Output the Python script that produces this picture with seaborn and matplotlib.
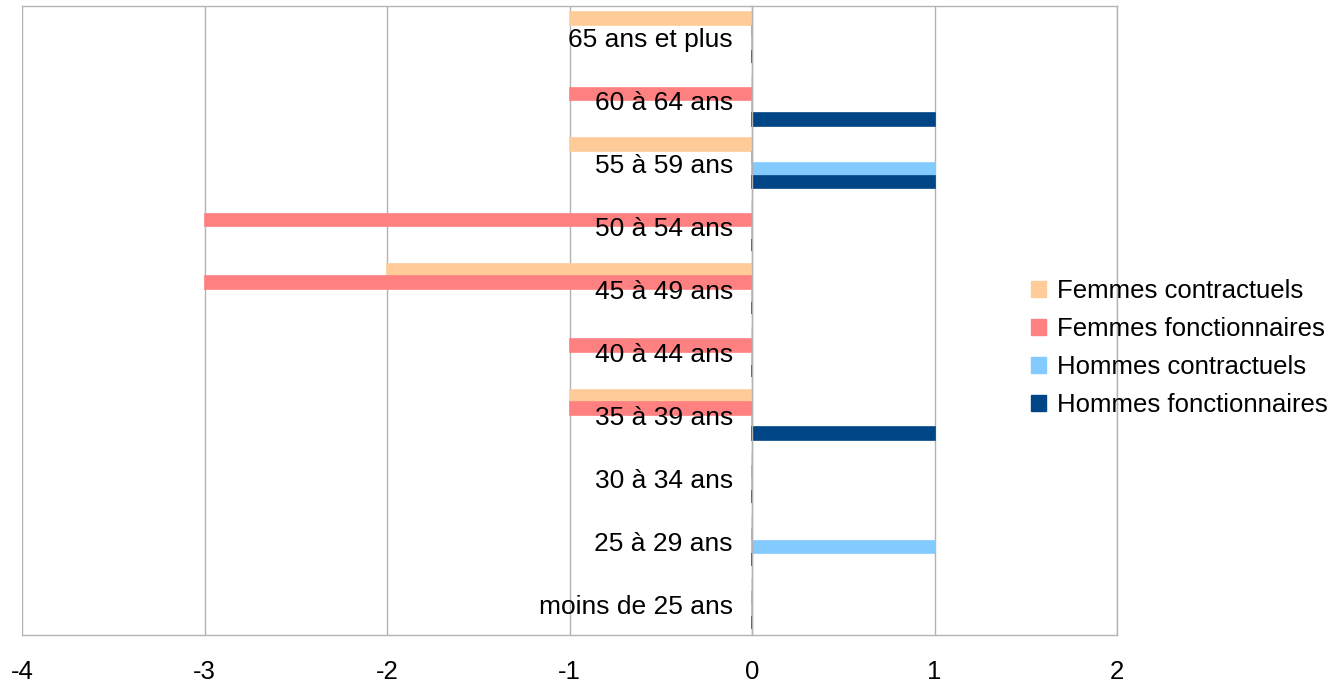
import numpy as np
import pandas as pd
import matplotlib
matplotlib.use("Agg")
import matplotlib.pyplot as plt
import matplotlib.transforms as mtransforms
import seaborn as sns

categories = ["65 ans et plus", "60 à 64 ans", "55 à 59 ans", "50 à 54 ans",
              "45 à 49 ans", "40 à 44 ans", "35 à 39 ans", "30 à 34 ans",
              "25 à 29 ans", "moins de 25 ans"]
series = ["Femmes contractuels", "Femmes fonctionnaires",
          "Hommes contractuels", "Hommes fonctionnaires"]
femmes_contractuels = [-1, 0, -1, 0, -2, 0, -1, 0, 0, 0]
femmes_fonctionnaires = [0, -1, 0, -3, -3, -1, -1, 0, 0, 0]
hommes_contractuels = [0, 0, 1, 0, 0, 0, 0, 0, 1, 0]
hommes_fonctionnaires = [0, 1, 1, 0, 0, 0, 1, 0, 0, 0]
colors = ["#ffcc99", "#ff8080", "#83caff", "#004586"]

rows = []
for name, vals in zip(series, [femmes_contractuels, femmes_fonctionnaires,
                               hommes_contractuels, hommes_fonctionnaires]):
    for cat, v in zip(categories, vals):
        rows.append({"cat": cat, "serie": name, "val": v})
df = pd.DataFrame(rows)

sns.set_style("white")
plt.rcParams["font.family"] = ["Liberation Sans", "DejaVu Sans"]
plt.rcParams["axes.unicode_minus"] = False
plt.rcParams["text.color"] = "black"
plt.rcParams["xtick.color"] = "black"
plt.rcParams["ytick.color"] = "black"

grey = "#b3b3b3"
fig = plt.figure(figsize=(13.4, 6.82), dpi=100)
ax = fig.add_axes([22 / 1340, 47 / 682, 1095 / 1340, 629 / 682])

sns.barplot(data=df, y="cat", x="val", hue="serie", order=categories,
            hue_order=series, palette=colors, orient="h", width=0.8,
            gap=0, ax=ax, legend=False, linewidth=1.2, saturation=1)
for patch in ax.patches:
    patch.set_edgecolor(patch.get_facecolor())
    patch.set_zorder(2)

ax.set_xlim(-4, 2)
ax.set_xticks(range(-4, 3))
ax.set_xticklabels([str(t) for t in range(-4, 3)], fontsize=18.5)
ax.tick_params(axis="x", length=10, width=1, color=grey, direction="out",
               pad=8, labelcolor="black")
ax.grid(axis="x", color=grey, linewidth=1)
ax.set_axisbelow(True)
ax.set_xlabel("")
ax.set_ylabel("")

for s in ["top", "bottom", "right"]:
    ax.spines[s].set_color(grey)
    ax.spines[s].set_linewidth(1)
ax.spines["left"].set_position(("data", 0))
ax.spines["left"].set_color(grey)
ax.spines["left"].set_linewidth(1)

# category labels drawn on top of the bars, right-aligned next to x=0
ax.set_yticks(range(len(categories)))
ax.set_yticklabels([])
ax.tick_params(axis="y", which="major", length=0)
ax.set_yticks(np.arange(-0.5, len(categories), 1.0), minor=True)
ax.tick_params(axis="y", which="minor", length=8, width=1, color=grey,
               direction="out")
trans = mtransforms.offset_copy(ax.transData, fig=fig, x=-19, y=-3,
                                units="dots")
for i, cat in enumerate(categories):
    ax.text(0, i, cat, transform=trans, ha="right", va="center",
            fontsize=19, color="black", zorder=5)

handles = [plt.Rectangle((0, 0), 1, 1, color=c) for c in colors]
fig.legend(handles, series, loc="center left",
           bbox_to_anchor=(1031 / 1340, 334 / 682), frameon=False,
           fontsize=18.5, handlelength=0.6, handleheight=0.6,
           handletextpad=0.4, labelspacing=0.55, borderaxespad=0,
           borderpad=0)

fig.savefig("out.png", dpi=100)
